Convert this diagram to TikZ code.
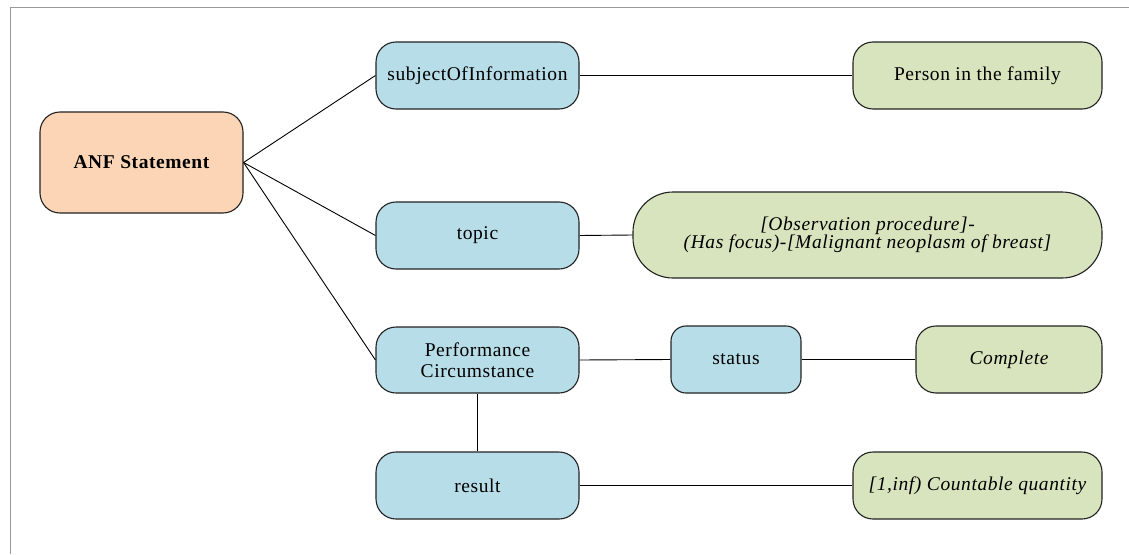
\documentclass[tikz,border=0pt]{standalone}
\usepackage{fontspec}
\setmainfont{Liberation Serif}[LetterSpace=3]
\definecolor{bluefill}{HTML}{B7DDE8}
\definecolor{greenfill}{HTML}{D7E4BD}
\definecolor{orangefill}{HTML}{FBD5B5}
\definecolor{edgecol}{HTML}{222222}
\begin{document}
\begin{tikzpicture}[x=1pt,y=-1pt,
  box/.style={draw=edgecol, line width=1.1pt, rounded corners=20pt, inner sep=0pt, align=center,
    font=\fontsize{19.5}{21.5}\selectfont, text=black},
  bluebox/.style={box, fill=bluefill, minimum width=203pt, minimum height=67pt},
  greenbox/.style={box, fill=greenfill, minimum height=67pt},
  link/.style={draw=black, line width=0.9pt}]
\useasboundingbox (0,0) rectangle (1129,554);
\draw[gray!80, line width=1pt] (10.5,554) -- (10.5,7.5) -- (1129,7.5);

\node[box, fill=orangefill, minimum width=203pt, minimum height=101pt, font=\fontsize{19.5}{22}\selectfont\bfseries] (anf) at (141.5,162.5) {ANF Statement};

\node[bluebox] (subj) at (477.5,75.5) {subjectOfInformation};
\node[bluebox] (topic) at (477.5,235.5) {topic};
\node[bluebox, minimum height=66pt] (perf) at (477.5,360) {Performance\\Circumstance};
\node[bluebox] (result) at (477.5,485.5) {result};
\node[bluebox, minimum width=130pt, rounded corners=15pt] (status) at (736,359.5) {status};

\node[greenbox, minimum width=249pt] (person) at (977.5,75.5) {Person in the family};
\node[greenbox, minimum width=469pt, minimum height=86pt, rounded corners=40pt,
  font=\fontsize{19.5}{18.5}\selectfont\itshape] (obs) at (867.5,235) {[Observation procedure]-\\(Has focus)-[Malignant neoplasm of breast]};
\node[greenbox, minimum width=186pt, font=\fontsize{19.5}{21.5}\selectfont\itshape] (complete) at (1009,359.5) {Complete};
\node[greenbox, minimum width=249pt, font=\fontsize{19.5}{21.5}\selectfont\itshape] (count) at (977.5,485.5) {[1,inf) Countable quantity};

\draw[link] (anf.east) -- (subj.west);
\draw[link] (anf.east) -- (topic.west);
\draw[link] (anf.east) -- (perf.west);
\draw[link] (subj.east) -- (person.west);
\draw[link] (topic.east) -- (obs.west);
\draw[link] (perf.east) -- (status.west);
\draw[link] (status.east) -- (complete.west);
\draw[link] (perf.south) -- (result.north);
\draw[link] (result.east) -- (count.west);
\end{tikzpicture}
\end{document}
